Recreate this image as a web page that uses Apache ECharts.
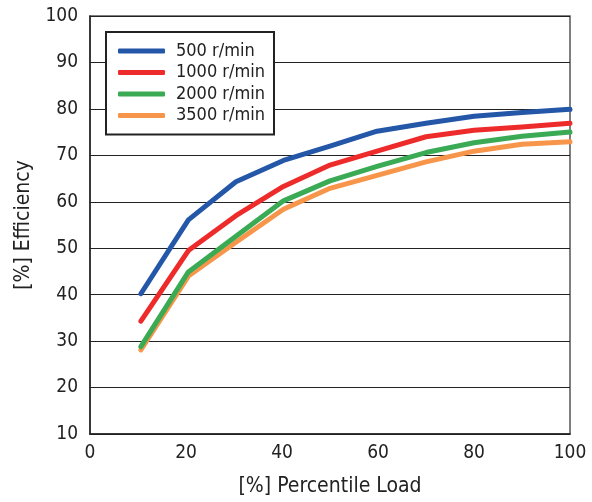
<!DOCTYPE html>
<html>
<head>
<meta charset="utf-8">
<script src="https://cdn.jsdelivr.net/npm/echarts@6/dist/echarts.min.js"></script>
<style>
  html, body { margin: 0; padding: 0; background: #fff; }
  #chart { width: 592px; height: 502px; }
</style>
</head>
<body>
<div id="chart"></div>
<script>
// load points (% of rated load)
var loadPct = [10.6, 20.5, 30.4, 40.3, 50, 59.8, 70, 80, 90, 100];

// efficiency (%) per speed
var eff500  = [40.2, 56.1, 64.3, 68.9, 72.0, 75.2, 76.9, 78.4, 79.2, 79.9];
var eff1000 = [34.3, 49.5, 57.0, 63.3, 67.9, 70.9, 74.0, 75.4, 76.1, 76.9];
var eff2000 = [28.8, 44.9, 52.6, 60.2, 64.5, 67.6, 70.6, 72.7, 74.1, 75.0];
var eff3500 = [28.1, 44.0, 51.3, 58.4, 62.9, 65.7, 68.6, 70.9, 72.4, 72.9];

var seriesNames  = ['500 r/min', '1000 r/min', '2000 r/min', '3500 r/min'];
var seriesData   = [eff500, eff1000, eff2000, eff3500];
var seriesColors = ['#2457a8', '#ee2b2b', '#3aaa55', '#f7964a'];

var FONT = '"DejaVu Sans Condensed", "Liberation Sans Narrow", "Liberation Sans", sans-serif';

var pairUp = function (ys) {
  var i, out = [];
  for (i = 0; i < ys.length; i++) {
    out.push([loadPct[i], ys[i]]);
  }
  return out;
};

var chart = echarts.init(document.getElementById('chart'));

var series = seriesNames.map(function (name, i) {
  return {
    name : name,
    type : 'line',
    data : pairUp(seriesData[i]),
    showSymbol : false,
    symbol : 'none',
    z : 10 - i,
    lineStyle : { color : seriesColors[i], width : 5, cap : 'round', join : 'round' },
    itemStyle : { color : seriesColors[i] }
  };
});

chart.setOption({
  animation : false,
  textStyle : { fontFamily : FONT },
  grid : {
    left : 90, right : 22, top : 16, bottom : 66,
    show : true, borderColor : '#555', borderWidth : 1.5
  },
  legend : {
    orient : 'vertical',
    left : 106, top : 32,
    data : seriesNames,
    icon : 'roundRect',
    itemWidth : 47, itemHeight : 5,
    itemGap : 3.5,
    padding : [10, 9, 10, 12],
    borderColor : '#222', borderWidth : 2,
    backgroundColor : '#fff',
    textStyle : { fontFamily : FONT, fontSize : 18, color : '#222', padding : [0, 0, 0, 6] }
  },
  xAxis : {
    type : 'value',
    min : 0, max : 100, interval : 20,
    name : '[%] Percentile Load',
    nameLocation : 'middle',
    nameGap : 42,
    nameTextStyle : { fontFamily : FONT, fontSize : 21, color : '#222' },
    axisLine : { show : true, lineStyle : { color : '#222', width : 1.5 } },
    axisTick : { show : false },
    splitLine : { show : false },
    axisLabel : { fontFamily : FONT, fontSize : 19, color : '#222', margin : 10 }
  },
  yAxis : {
    type : 'value',
    min : 10, max : 100, interval : 10,
    name : '[%] Efficiency',
    nameLocation : 'middle',
    nameGap : 52,
    nameTextStyle : { fontFamily : FONT, fontSize : 21, color : '#222' },
    axisLine : { show : true, lineStyle : { color : '#222', width : 1.5 } },
    axisTick : { show : false },
    splitLine : { show : true, lineStyle : { color : '#222', width : 1 } },
    axisLabel : { fontFamily : FONT, fontSize : 19, color : '#222', margin : 12 }
  },
  series : series
});
</script>
</body>
</html>
